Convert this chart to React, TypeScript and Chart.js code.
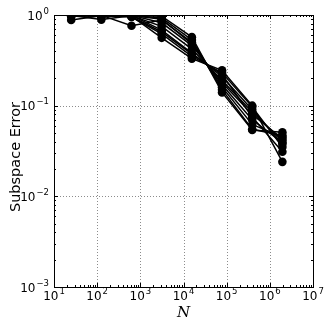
import React, { useEffect, useRef } from "react";
import { Chart, registerables } from "chart.js";

Chart.register(...registerables);

const sampleSizes = [25, 125, 625, 3125, 15625, 78125, 390625, 1953125];

const run1 = [0.88, 0.98, 0.99, 0.97, 0.57, 0.14, 0.054, 0.051];
const run2 = [0.99, 0.89, 0.98, 0.93, 0.53, 0.15, 0.055, 0.047];
const run3 = [0.98, 0.99, 0.76, 0.88, 0.5, 0.16, 0.062, 0.045];
const run4 = [1.0, 0.99, 0.97, 0.56, 0.33, 0.245, 0.1, 0.024];
const run5 = [0.99, 1.0, 0.95, 0.62, 0.35, 0.23, 0.097, 0.035];
const run6 = [0.98, 0.99, 0.99, 0.68, 0.38, 0.21, 0.09, 0.038];
const run7 = [0.99, 0.98, 0.98, 0.75, 0.42, 0.19, 0.085, 0.041];
const run8 = [0.97, 0.99, 0.99, 0.82, 0.46, 0.18, 0.08, 0.043];
const run9 = [0.99, 0.97, 0.96, 0.65, 0.37, 0.22, 0.075, 0.031];
const run10 = [1.0, 0.99, 0.99, 0.9, 0.48, 0.17, 0.07, 0.039];

const runs = [run1, run2, run3, run4, run5, run6, run7, run8, run9, run10];

const xDecades = [1, 2, 3, 4, 5, 6, 7];
const yDecades = [-3, -2, -1, 0];

const yAxisTitle = "Subspace Error";
const xAxisTitle = "N";

const TICK_FONT = "12px 'DejaVu Sans'";
const EXP_FONT = "8.5px 'DejaVu Sans'";

function expText(e: number) {
  return e < 0 ? "\u2212" + Math.abs(e) : String(e);
}

const axesPlugin = {
  id: "mplAxes",
  beforeDatasetsDraw(chart: any) {
    const { ctx, chartArea, scales } = chart;
    const { left, right, top, bottom } = chartArea;
    ctx.save();
    ctx.strokeStyle = "#8c8c8c";
    ctx.lineWidth = 1;
    ctx.setLineDash([1, 2]);
    for (const d of xDecades) {
      const x = Math.round(scales.x.getPixelForValue(Math.pow(10, d))) + 0.5;
      if (x <= left + 1 || x >= right - 1) continue;
      ctx.beginPath();
      ctx.moveTo(x, top);
      ctx.lineTo(x, bottom);
      ctx.stroke();
    }
    for (const d of yDecades) {
      const y = Math.round(scales.y.getPixelForValue(Math.pow(10, d))) + 0.5;
      if (y <= top + 1 || y >= bottom - 1) continue;
      ctx.beginPath();
      ctx.moveTo(left, y);
      ctx.lineTo(right, y);
      ctx.stroke();
    }
    ctx.restore();
  },
  afterDraw(chart: any) {
    const { ctx, chartArea, scales } = chart;
    const { left, right, top, bottom } = chartArea;
    ctx.save();
    ctx.setLineDash([]);
    ctx.strokeStyle = "#000";
    ctx.lineWidth = 1;
    ctx.strokeRect(Math.round(left) + 0.5, Math.round(top) + 0.5, Math.round(right - left), Math.round(bottom - top));

    const drawXTick = (v: number, len: number) => {
      const x = Math.round(scales.x.getPixelForValue(v)) + 0.5;
      ctx.beginPath();
      ctx.moveTo(x, bottom);
      ctx.lineTo(x, bottom - len);
      ctx.moveTo(x, top);
      ctx.lineTo(x, top + len);
      ctx.stroke();
    };
    const drawYTick = (v: number, len: number) => {
      const y = Math.round(scales.y.getPixelForValue(v)) + 0.5;
      ctx.beginPath();
      ctx.moveTo(left, y);
      ctx.lineTo(left + len, y);
      ctx.moveTo(right, y);
      ctx.lineTo(right - len, y);
      ctx.stroke();
    };
    for (let d = 1; d < 7; d++) {
      for (let m = 2; m <= 9; m++) drawXTick(m * Math.pow(10, d), 2);
    }
    for (const d of xDecades) drawXTick(Math.pow(10, d), 4);
    for (let d = -3; d < 0; d++) {
      for (let m = 2; m <= 9; m++) drawYTick(m * Math.pow(10, d), 2);
    }
    for (const d of yDecades) drawYTick(Math.pow(10, d), 4);

    ctx.fillStyle = "#000";
    ctx.textBaseline = "alphabetic";
    ctx.textAlign = "left";
    for (const d of xDecades) {
      const x = scales.x.getPixelForValue(Math.pow(10, d));
      ctx.font = TICK_FONT;
      const w1 = ctx.measureText("10").width;
      ctx.font = EXP_FONT;
      const e = expText(d);
      const w2 = ctx.measureText(e).width;
      const start = x - (w1 + w2 + 1) / 2;
      const base = bottom + 13;
      ctx.font = TICK_FONT;
      ctx.fillText("10", start, base);
      ctx.font = EXP_FONT;
      ctx.fillText(e, start + w1 + 1, base - 6);
    }
    for (const d of yDecades) {
      const y = scales.y.getPixelForValue(Math.pow(10, d));
      ctx.font = TICK_FONT;
      const w1 = ctx.measureText("10").width;
      ctx.font = EXP_FONT;
      const e = expText(d);
      const w2 = ctx.measureText(e).width;
      const end = left - 5;
      const start = end - w2 - 1 - w1;
      const base = y + 4.5;
      ctx.font = TICK_FONT;
      ctx.fillText("10", start, base);
      ctx.font = EXP_FONT;
      ctx.fillText(e, start + w1 + 1, base - 6);
    }

    ctx.font = "14.5px 'DejaVu Sans'";
    ctx.textAlign = "center";
    ctx.textBaseline = "middle";
    ctx.save();
    ctx.translate(16, 157);
    ctx.rotate(-Math.PI / 2);
    ctx.fillText(yAxisTitle, 0, 0);
    ctx.restore();

    ctx.font = "italic 15px 'DejaVu Serif'";
    ctx.fillText(xAxisTitle, (left + right) / 2, 313);
    ctx.restore();
  },
};

export default function App() {
  const canvasRef = useRef<HTMLCanvasElement | null>(null);

  useEffect(() => {
    const canvas = canvasRef.current;
    if (!canvas) return;
    const datasets = runs.map((r, i) => ({
      label: "run " + (i + 1),
      data: sampleSizes.map((x, j) => ({ x, y: r[j] })),
      borderColor: "#000",
      backgroundColor: "#000",
      borderWidth: 1.5,
      pointRadius: 4.3,
      pointHoverRadius: 4.3,
      pointBorderWidth: 0,
      showLine: true,
      tension: 0,
      clip: 0,
    }));
    const chart = new Chart(canvas, {
      type: "scatter",
      data: { datasets },
      options: {
        responsive: false,
        animation: false,
        events: [],
        layout: { padding: { left: 0, top: 15, right: 19, bottom: 0 } },
        plugins: { legend: { display: false }, tooltip: { enabled: false } },
        scales: {
          x: {
            type: "logarithmic",
            min: 10,
            max: 1e7,
            ticks: { display: false },
            grid: { display: false },
            border: { display: false },
            afterFit: (s: any) => {
              s.height = 45;
            },
          },
          y: {
            type: "logarithmic",
            min: 1e-3,
            max: 1,
            ticks: { display: false },
            grid: { display: false },
            border: { display: false },
            afterFit: (s: any) => {
              s.width = 54;
            },
          },
        },
      },
      plugins: [axesPlugin],
    } as any);
    return () => chart.destroy();
  }, []);

  return (
    <div style={{ position: "fixed", left: 0, top: 0, width: 332, height: 332, background: "#fff" }}>
      <canvas ref={canvasRef} width={332} height={332} style={{ width: 332, height: 332 }} />
    </div>
  );
}
